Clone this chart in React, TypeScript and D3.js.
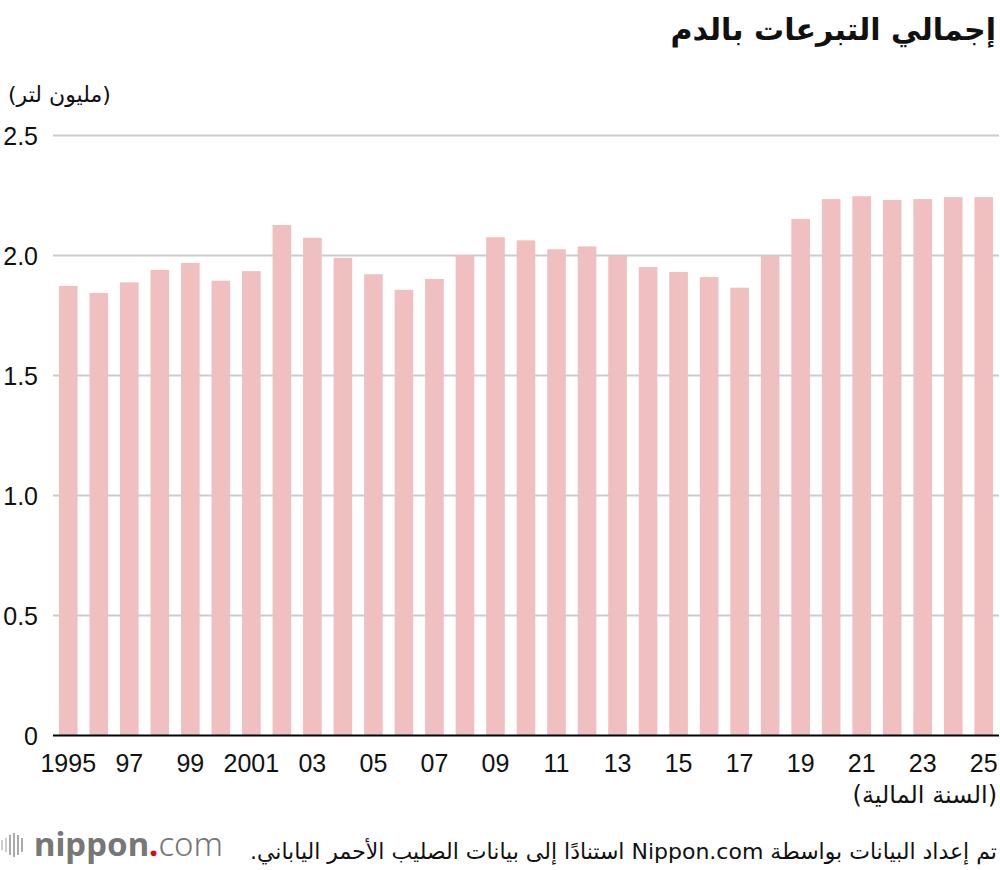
import { useEffect, useRef } from 'react';
import * as d3 from 'd3';

// Blood donations per fiscal year, million litres
const years = d3.range(1995, 2026).map(String);
const volumes = [
  1.873, 1.844, 1.888, 1.94, 1.969, 1.895, 1.935, 2.127, 2.074, 1.99,
  1.922, 1.857, 1.902, 2.001, 2.076, 2.063, 2.026, 2.038, 1.999, 1.952,
  1.931, 1.91, 1.866, 1.999, 2.152, 2.235, 2.247, 2.231, 2.235, 2.243, 2.243,
];
const yTicks = [0, 0.5, 1.0, 1.5, 2.0, 2.5];
const xTickYears = years.filter((_, i) => i % 2 === 0);

const title = 'إجمالي التبرعات بالدم';
const unitLabel = '(مليون لتر)';
const xAxisLabel = '(السنة المالية)';
const sourceNote = 'تم إعداد البيانات بواسطة Nippon.com استنادًا إلى بيانات الصليب الأحمر الياباني.';

const W = 1000;
const H = 870;
const plot = { left: 53, right: 999, top: 135.5, bottom: 735.5 };

const BAR = '#f0bfbf';
const GRID = '#cccccc';
const SANS = '"Liberation Sans", Arial, sans-serif';
const AR = '"DejaVu Sans", "Noto Sans", sans-serif';

export default function App() {
  const svgRef = useRef<SVGSVGElement>(null);

  useEffect(() => {
    if (!svgRef.current) return;
    const svg = d3.select(svgRef.current);
    svg.selectAll('*').remove();

    const x = d3
      .scaleBand<string>()
      .domain(years)
      .range([plot.left, plot.right])
      .paddingInner(0.39)
      .paddingOuter(0.195);

    const y = d3.scaleLinear().domain([0, 2.5]).range([plot.bottom, plot.top]);

    // gridlines behind the bars
    svg
      .append('g')
      .selectAll('line')
      .data(yTicks.filter((t) => t > 0))
      .enter()
      .append('line')
      .attr('x1', plot.left)
      .attr('x2', plot.right)
      .attr('y1', (d) => y(d))
      .attr('y2', (d) => y(d))
      .attr('stroke', GRID)
      .attr('stroke-width', 2);

    // y tick labels
    svg
      .append('g')
      .selectAll('text')
      .data(yTicks)
      .enter()
      .append('text')
      .attr('x', 38)
      .attr('y', (d) => y(d))
      .attr('dy', '0.36em')
      .attr('text-anchor', 'end')
      .style('font-family', SANS)
      .style('font-size', '25px')
      .style('fill', '#111')
      .text((d) => (d === 0 ? '0' : d.toFixed(1)));

    // bars
    svg
      .append('g')
      .selectAll('rect')
      .data(volumes)
      .enter()
      .append('rect')
      .attr('x', (_d, i) => x(years[i])!)
      .attr('width', x.bandwidth())
      .attr('y', (d) => y(d))
      .attr('height', (d) => y(0) - y(d))
      .attr('fill', BAR);

    // baseline
    svg
      .append('line')
      .attr('x1', plot.left)
      .attr('x2', plot.right)
      .attr('y1', y(0))
      .attr('y2', y(0))
      .attr('stroke', '#000')
      .attr('stroke-width', 2);

    // x tick labels on odd years
    svg
      .append('g')
      .selectAll('text')
      .data(xTickYears)
      .enter()
      .append('text')
      .attr('x', (d) => x(d)! + x.bandwidth() / 2)
      .attr('y', 772)
      .attr('text-anchor', 'middle')
      .style('font-family', SANS)
      .style('font-size', '25px')
      .style('fill', '#111')
      .text((d) => (d === '1995' || d === '2001' ? d : d.slice(2)));

    const rtl = (txt: string, xPos: number, yPos: number, size: number, weight = 'normal', anchor = 'start') =>
      svg
        .append('text')
        .attr('x', xPos)
        .attr('y', yPos)
        .attr('direction', 'rtl')
        .attr('text-anchor', anchor)
        .style('font-family', AR)
        .style('font-size', `${size}px`)
        .style('font-weight', weight)
        .style('fill', '#111')
        .text(txt);

    rtl(title, 996, 40, 30, 'bold');
    rtl(unitLabel, 8, 102, 22, 'normal', 'end');
    rtl(xAxisLabel, 997, 803, 24);
    rtl(sourceNote, 997, 859, 22);

    // nippon.com logo
    const logo = svg.append('g');
    const barsIcon = [10, 14, 20, 24, 20, 14];
    logo
      .selectAll('rect')
      .data(barsIcon)
      .enter()
      .append('rect')
      .attr('x', (_d, i) => 1 + i * 4)
      .attr('y', (d) => 845 - d / 2)
      .attr('width', 2)
      .attr('height', (d) => d)
      .attr('fill', (_d, i) => (i < 2 ? '#ccc' : '#aaa'));
    const logoText = logo
      .append('text')
      .attr('x', 34)
      .attr('y', 856)
      .style('font-family', '"Noto Sans", "Open Sans", sans-serif')
      .style('font-size', '33px')
      .style('fill', '#777');
    logoText.append('tspan').style('font-weight', 'bold').text('nippon');
    logoText.append('tspan').style('font-weight', 'bold').style('fill', '#e60012').text('.');
    logoText.append('tspan').style('font-weight', '300').text('com');
  }, []);

  return (
    <svg
      ref={svgRef}
      width={W}
      height={H}
      style={{ position: 'absolute', left: 0, top: 0, background: '#fff', display: 'block' }}
    />
  );
}
